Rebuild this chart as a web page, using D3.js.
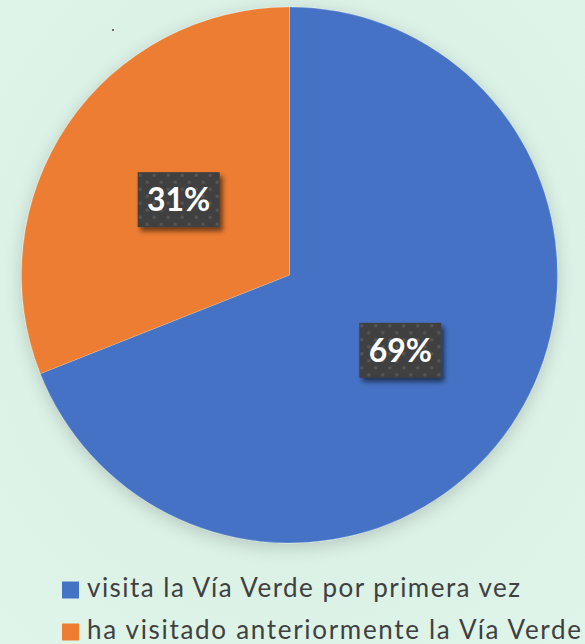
<!DOCTYPE html>
<html>
<head>
<meta charset="utf-8">
<script src="https://cdn.jsdelivr.net/npm/d3@7"></script>
<style>
  html, body { margin: 0; padding: 0; }
  body { width: 585px; height: 644px; overflow: hidden; }
</style>
</head>
<body>
<div id="chart"></div>
<script>
const categories = ["visita la Vía Verde por primera vez", "ha visitado anteriormente la Vía Verde"];
const values = [69, 31];
const colors = ["#4472C4", "#ED7D31"];

const width = 585, height = 644;
const cx = 289.5, cy = 275, radius = 268;

const svg = d3.select("#chart")
  .append("svg")
  .attr("width", width)
  .attr("height", height);

const defs = svg.append("defs");

// background gradient (light mint)
const bg = defs.append("radialGradient")
  .attr("id", "bg")
  .attr("cx", "50%").attr("cy", "45%").attr("r", "75%");
bg.append("stop").attr("offset", "0%").attr("stop-color", "#d6ede1");
bg.append("stop").attr("offset", "100%").attr("stop-color", "#e0f5ea");

// soft shadow behind the pie
const pieShadow = defs.append("filter")
  .attr("id", "pieShadow")
  .attr("x", "-20%").attr("y", "-20%").attr("width", "140%").attr("height", "140%");
pieShadow.append("feGaussianBlur").attr("in", "SourceAlpha").attr("stdDeviation", 9).attr("result", "b");
pieShadow.append("feOffset").attr("in", "b").attr("dx", 0).attr("dy", 4).attr("result", "o");
pieShadow.append("feComponentTransfer").attr("in", "o").attr("result", "s")
  .append("feFuncA").attr("type", "linear").attr("slope", 0.18);
const pm = pieShadow.append("feMerge");
pm.append("feMergeNode").attr("in", "s");
pm.append("feMergeNode").attr("in", "SourceGraphic");

// label box shadow
const boxShadow = defs.append("filter")
  .attr("id", "boxShadow")
  .attr("x", "-20%").attr("y", "-20%").attr("width", "150%").attr("height", "150%");
boxShadow.append("feGaussianBlur").attr("in", "SourceAlpha").attr("stdDeviation", 2.5).attr("result", "b");
boxShadow.append("feOffset").attr("in", "b").attr("dx", 3).attr("dy", 4).attr("result", "o");
boxShadow.append("feComponentTransfer").attr("in", "o").attr("result", "s")
  .append("feFuncA").attr("type", "linear").attr("slope", 0.55);
const bm = boxShadow.append("feMerge");
bm.append("feMergeNode").attr("in", "s");
bm.append("feMergeNode").attr("in", "SourceGraphic");

// dotted pattern of the label boxes
const dots = defs.append("pattern")
  .attr("id", "dots")
  .attr("patternUnits", "userSpaceOnUse")
  .attr("width", 14).attr("height", 14);
dots.append("rect").attr("width", 14).attr("height", 14).attr("fill", "#3f3f3f");
dots.append("rect").attr("x", 2).attr("y", 2).attr("width", 3).attr("height", 3).attr("fill", "#575757");
dots.append("rect").attr("x", 9).attr("y", 9).attr("width", 3).attr("height", 3).attr("fill", "#575757");

svg.append("rect")
  .attr("width", width)
  .attr("height", height)
  .attr("fill", "url(#bg)");

// small stray mark in the original
svg.append("rect")
  .attr("x", 112).attr("y", 29).attr("width", 2).attr("height", 2)
  .attr("fill", "#6a6a6a");

const pie = d3.pie().sort(null).value(d => d);
const arc = d3.arc().innerRadius(0).outerRadius(radius);

const g = svg.append("g")
  .attr("transform", `translate(${cx},${cy})`);

g.append("g")
  .attr("filter", "url(#pieShadow)")
  .selectAll("path")
  .data(pie(values))
  .join("path")
  .attr("d", arc)
  .attr("fill", (d, i) => colors[i])
  .attr("stroke", "rgba(255,255,255,0.35)")
  .attr("stroke-width", 0.6);

// data labels
const labels = g.selectAll("g.label")
  .data(pie(values))
  .join("g")
  .attr("class", "label")
  .attr("transform", d => `translate(${arc.centroid(d)})`);

labels.append("rect")
  .attr("x", -41).attr("y", -27.5)
  .attr("width", 82).attr("height", 55)
  .attr("fill", "url(#dots)")
  .attr("filter", "url(#boxShadow)");

labels.append("text")
  .attr("text-anchor", "middle")
  .attr("dy", "0.36em")
  .style("font-family", "Lato, 'Open Sans', sans-serif")
  .style("font-weight", "bold")
  .style("font-size", "32px")
  .style("fill", "white")
  .text(d => d.data + "%");

// legend
const legend = svg.append("g");
const legendY = d3.scalePoint().domain(categories).range([590, 632]);
const textWidths = [433, 494];

categories.forEach((c, i) => {
  const y = legendY(c);
  legend.append("rect")
    .attr("x", 62).attr("y", y - 8.5)
    .attr("width", 17).attr("height", 17)
    .attr("fill", colors[i]);
  legend.append("text")
    .attr("x", 87).attr("y", y + 6.5)
    .attr("textLength", textWidths[i])
    .attr("lengthAdjust", "spacing")
    .style("font-family", "Lato, 'Open Sans', sans-serif")
    .style("font-size", "26px")
    .style("fill", "#404040")
    .text(c);
});
</script>
</body>
</html>
